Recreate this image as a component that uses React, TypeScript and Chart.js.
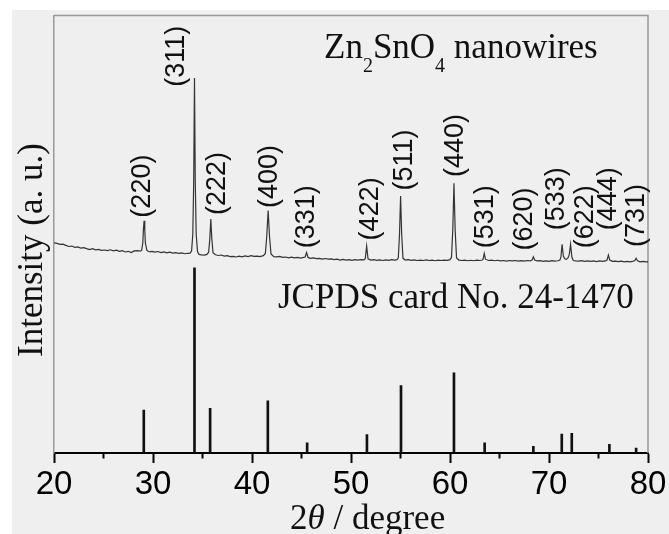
import { useEffect, useRef } from "react";
import { Chart, registerables } from "chart.js";

Chart.register(...registerables);

// Measured XRD trace of Zn2SnO4 nanowires: [2θ (degree), intensity (a. u.)]
const xrdTrace: [number, number][] = [
  [20.0, 48.05], [20.3, 47.9], [20.6, 47.7], [20.9, 47.75], [21.2, 47.45], [21.5, 47.2],
  [21.8, 47.3], [22.1, 47.0], [22.4, 47.1], [22.7, 46.85], [23.0, 46.95], [23.3, 46.7],
  [23.6, 46.5], [23.9, 46.7], [24.2, 46.45], [24.5, 46.55], [24.8, 46.3], [25.1, 46.4],
  [25.4, 46.25], [25.7, 46.45], [26.0, 46.2], [26.3, 46.35], [26.6, 46.1], [26.9, 46.25],
  [27.2, 45.95], [27.5, 46.1], [27.8, 45.8], [28.1, 46.2], [28.4, 46.25], [28.7, 46.15],
  [28.85, 46.3], [28.97, 48.0], [29.03, 51.0], [29.1, 53.1], [29.17, 51.0], [29.23, 48.0], [29.38, 46.3],
  [29.6, 46.0], [29.9, 46.1], [30.2, 45.9], [30.5, 46.05], [30.8, 45.8], [31.1, 45.95],
  [31.4, 45.75], [31.7, 45.9], [32.0, 45.7], [32.3, 45.8], [32.6, 45.65], [32.9, 45.75],
  [33.2, 45.55], [33.5, 45.65], [33.75, 45.7],
  [33.9, 46.2], [34.02, 50.0], [34.11, 62.0], [34.19, 85.7], [34.27, 62.0], [34.36, 50.0], [34.5, 46.0],
  [34.65, 45.4], [34.9, 45.3], [35.2, 45.25], [35.45, 45.4],
  [35.62, 45.9], [35.74, 49.0], [35.84, 53.5], [35.94, 49.0], [36.06, 45.8],
  [36.3, 45.3], [36.6, 45.15], [36.9, 45.25], [37.2, 45.0], [37.5, 45.1], [37.8, 44.9],
  [38.1, 44.95], [38.4, 44.8], [38.7, 45.0], [39.0, 44.85], [39.3, 45.05], [39.6, 44.9],
  [39.9, 45.1], [40.2, 44.95], [40.5, 45.0], [40.8, 44.9], [41.15, 45.1],
  [41.35, 45.6], [41.49, 49.5], [41.63, 55.4], [41.77, 49.5], [41.92, 45.5],
  [42.2, 44.9], [42.5, 44.85], [42.8, 44.95], [43.1, 44.7], [43.4, 44.8], [43.7, 44.6],
  [44.0, 44.75], [44.3, 44.6], [44.6, 44.7], [44.9, 44.55], [45.2, 44.7],
  [45.37, 44.8], [45.51, 45.8], [45.66, 44.7],
  [45.9, 44.5], [46.2, 44.6], [46.5, 44.45], [46.8, 44.5], [47.1, 44.3], [47.4, 44.45],
  [47.7, 44.3], [48.0, 44.35], [48.3, 44.2], [48.6, 44.3], [48.9, 44.1], [49.2, 44.25],
  [49.5, 44.1], [49.8, 44.2], [50.1, 44.05], [50.4, 44.2], [50.7, 44.1], [51.0, 44.2], [51.3, 44.15],
  [51.44, 44.4], [51.58, 47.3], [51.72, 44.4],
  [52.0, 44.1], [52.3, 44.2], [52.6, 44.05], [52.9, 44.15], [53.2, 44.0], [53.5, 44.15],
  [53.8, 44.05], [54.1, 44.2], [54.4, 44.1], [54.65, 44.2],
  [54.78, 44.6], [54.9, 50.0], [55.01, 58.74], [55.12, 50.0], [55.25, 44.5],
  [55.5, 44.1], [55.8, 44.2], [56.1, 44.05], [56.4, 44.15], [56.7, 44.0], [57.0, 44.1],
  [57.3, 44.0], [57.6, 44.15], [57.9, 44.0], [58.2, 44.1], [58.5, 43.95], [58.8, 44.1],
  [59.1, 44.0], [59.4, 44.1], [59.7, 44.05], [60.0, 44.2],
  [60.15, 44.7], [60.28, 51.0], [60.4, 61.65], [60.52, 51.0], [60.66, 44.6],
  [60.9, 44.1], [61.2, 44.0], [61.5, 44.1], [61.8, 43.95], [62.1, 44.05], [62.4, 43.95],
  [62.7, 44.1], [63.0, 44.0], [63.25, 44.1],
  [63.34, 44.3], [63.46, 45.6], [63.58, 44.3],
  [63.9, 44.0], [64.2, 44.1], [64.5, 43.95], [64.8, 44.05], [65.1, 43.9], [65.4, 44.0],
  [65.7, 43.85], [66.0, 44.0], [66.3, 43.9], [66.6, 44.0], [66.9, 43.85], [67.2, 43.95],
  [67.5, 43.85], [67.8, 44.0], [68.1, 43.9],
  [68.29, 44.1], [68.42, 44.85], [68.55, 44.1],
  [68.8, 43.9], [69.1, 43.95], [69.4, 43.8], [69.7, 43.9], [70.0, 43.8], [70.3, 43.95],
  [70.6, 43.85], [70.9, 43.95], [71.1, 44.1],
  [71.2, 44.7], [71.32, 47.7], [71.45, 45.0], [71.6, 44.4], [71.75, 44.25], [71.92, 44.6],
  [72.05, 45.4], [72.18, 47.7], [72.31, 44.8], [72.45, 44.0],
  [72.7, 43.9], [73.0, 43.85], [73.3, 43.95], [73.6, 43.8], [73.9, 43.9], [74.2, 43.8],
  [74.5, 43.9], [74.8, 43.75], [75.1, 43.9], [75.4, 43.8], [75.7, 43.9],
  [75.86, 44.1], [76.0, 45.25], [76.14, 44.1],
  [76.4, 43.8], [76.7, 43.85], [77.0, 43.75], [77.3, 43.85], [77.6, 43.7], [77.9, 43.8],
  [78.2, 43.7], [78.5, 43.85],
  [78.66, 43.95], [78.8, 44.5], [78.94, 43.95],
  [79.2, 43.7], [79.5, 43.8], [79.8, 43.7], [80.0, 43.7],
];

// JCPDS card No. 24-1470 reference lines
const stickTheta = [29.07, 34.19, 35.77, 41.6, 45.57, 51.61, 55.05, 60.4, 63.5, 68.42, 71.29, 72.3, 76.1, 78.8];
const stickIntensity = [9.8, 42.3, 10.2, 11.9, 2.3, 4.2, 15.4, 18.3, 2.3, 1.5, 4.3, 4.5, 2.0, 1.1];

// Miller-index labels and their anchor (start of text) in data units
const hklLabels = ["(220)", "(311)", "(222)", "(400)", "(331)", "(422)", "(511)", "(440)", "(531)", "(620)", "(533)", "(622)", "(444)", "(731)"];
const hklLabelTheta = [28.97, 32.36, 36.55, 41.8, 45.53, 51.96, 55.45, 60.6, 63.55, 67.56, 70.8, 73.7, 75.97, 78.8];
const hklLabelIntensity = [53.8, 83.7, 54.4, 56.0, 46.8, 48.6, 60.0, 63.1, 46.8, 46.3, 50.9, 46.8, 50.9, 47.1];

// Axis ticks
const xTickValues = [20, 30, 40, 50, 60, 70, 80];
const xMinorTickValues = [25, 35, 45, 55, 65, 75];

const SERIF = '"Liberation Serif", "Times New Roman", serif';
const SANS = '"Liberation Sans", Arial, sans-serif';

export default function App() {
  const ref = useRef<HTMLCanvasElement | null>(null);

  useEffect(() => {
    const canvas = ref.current;
    if (!canvas) return;

    const decor = {
      id: "decor",
      beforeDraw(chart: any) {
        const { ctx, width, height } = chart;
        ctx.save();
        ctx.fillStyle = "#ffffff";
        ctx.fillRect(0, 0, width, height);
        ctx.fillStyle = "#efefef";
        ctx.fillRect(12, 10, width - 12, height - 10);
        ctx.restore();
      },
      beforeDatasetsDraw(chart: any) {
        const { ctx, chartArea: a } = chart;
        const xs = chart.scales.x;
        ctx.save();
        ctx.strokeStyle = "#999999";
        ctx.lineWidth = 1.5;
        ctx.beginPath();
        ctx.moveTo(a.left, a.top);
        ctx.lineTo(a.right, a.top);
        ctx.lineTo(a.right, a.bottom);
        ctx.stroke();
        ctx.strokeStyle = "#000000";
        ctx.lineWidth = 2;
        for (const v of xMinorTickValues) {
          const px = xs.getPixelForValue(v);
          ctx.beginPath();
          ctx.moveTo(px, a.bottom);
          ctx.lineTo(px, a.bottom + 5.5);
          ctx.stroke();
        }
        ctx.restore();
      },
      afterDatasetsDraw(chart: any) {
        const { ctx } = chart;
        const xs = chart.scales.x;
        const ys = chart.scales.y;
        ctx.save();
        ctx.fillStyle = "#111111";
        // hkl labels
        ctx.font = `27px ${SANS}`;
        ctx.textAlign = "left";
        ctx.textBaseline = "middle";
        hklLabels.forEach((t, i) => {
          const px = xs.getPixelForValue(hklLabelTheta[i]);
          const py = ys.getPixelForValue(hklLabelIntensity[i]);
          ctx.save();
          ctx.translate(px, py);
          ctx.rotate(-Math.PI / 2);
          ctx.fillText(t, 0, 0);
          ctx.restore();
        });

        ctx.textBaseline = "alphabetic";
        // Zn2SnO4 nanowires
        const parts: [string, boolean][] = [["Zn", false], ["2", true], ["SnO", false], ["4", true], [" nanowires", false]];
        let x = 324;
        for (const [t, sub] of parts) {
          ctx.font = sub ? `20px ${SERIF}` : `35px ${SERIF}`;
          ctx.fillText(t, x, sub ? 71.5 : 58.3);
          x += ctx.measureText(t).width;
        }
        // JCPDS label
        ctx.font = `35px ${SERIF}`;
        ctx.fillText("JCPDS card No. 24-1470", 278, 308);

        // y title
        ctx.save();
        ctx.translate(42, 250);
        ctx.rotate(-Math.PI / 2);
        ctx.textAlign = "center";
        ctx.fillText("Intensity (a. u.)", 0, 0);
        ctx.restore();

        // x title: 2θ / degree
        const xt: [string, boolean][] = [["2", false], ["\u03b8", true], [" / degree", false]];
        let tx = 290;
        for (const [t, it] of xt) {
          ctx.font = `${it ? "italic " : ""}35px ${SERIF}`;
          ctx.fillText(t, tx, 529);
          tx += ctx.measureText(t).width;
        }
        ctx.restore();
      },
    };

    const chart = new Chart(canvas, {
      type: "line",
      data: {
        datasets: [
          {
            type: "line",
            label: "Zn2SnO4 nanowires",
            data: xrdTrace.map(([x, y]) => ({ x, y })),
            borderColor: "#333333",
            borderWidth: 1.2,
            pointRadius: 0,
            tension: 0,
            fill: false,
          } as any,
          {
            type: "bar",
            label: "JCPDS 24-1470",
            data: stickTheta.map((x, i) => ({ x, y: stickIntensity[i] })),
            backgroundColor: "#111111",
            borderWidth: 0,
            barThickness: 2,
          } as any,
        ],
      },
      options: {
        responsive: false,
        animation: false,
        devicePixelRatio: 1,
        events: [],
        layout: { padding: { top: 15.5, right: 21, left: 0, bottom: 0 } },
        plugins: { legend: { display: false }, tooltip: { enabled: false } },
        scales: {
          x: {
            type: "linear",
            min: 20,
            max: 80,
            offset: false,
            afterBuildTicks: (s: any) => {
              s.ticks = xTickValues.map((v) => ({ value: v }));
            },
            afterFit: (s: any) => {
              s.height = 81;
            },
            grid: {
              display: true,
              drawOnChartArea: false,
              drawTicks: true,
              tickLength: 10,
              tickColor: "#000000",
              tickWidth: 2,
              offset: false,
            },
            border: { display: true, color: "#000000", width: 2 },
            ticks: {
              font: { family: SANS, size: 33 },
              color: "#000000",
              padding: 2,
              autoSkip: false,
              maxRotation: 0,
              minRotation: 0,
            },
          },
          y: {
            type: "linear",
            min: 0,
            max: 100,
            afterFit: (s: any) => {
              s.width = 54;
            },
            grid: { display: false },
            ticks: { display: false },
            border: { display: true, color: "#999999", width: 1.5 },
          },
        },
      } as any,
      plugins: [decor],
    });

    return () => chart.destroy();
  }, []);

  return (
    <div style={{ position: "fixed", left: 0, top: 0, width: 669, height: 534 }}>
      <canvas ref={ref} width={669} height={534} style={{ display: "block" }} />
    </div>
  );
}
